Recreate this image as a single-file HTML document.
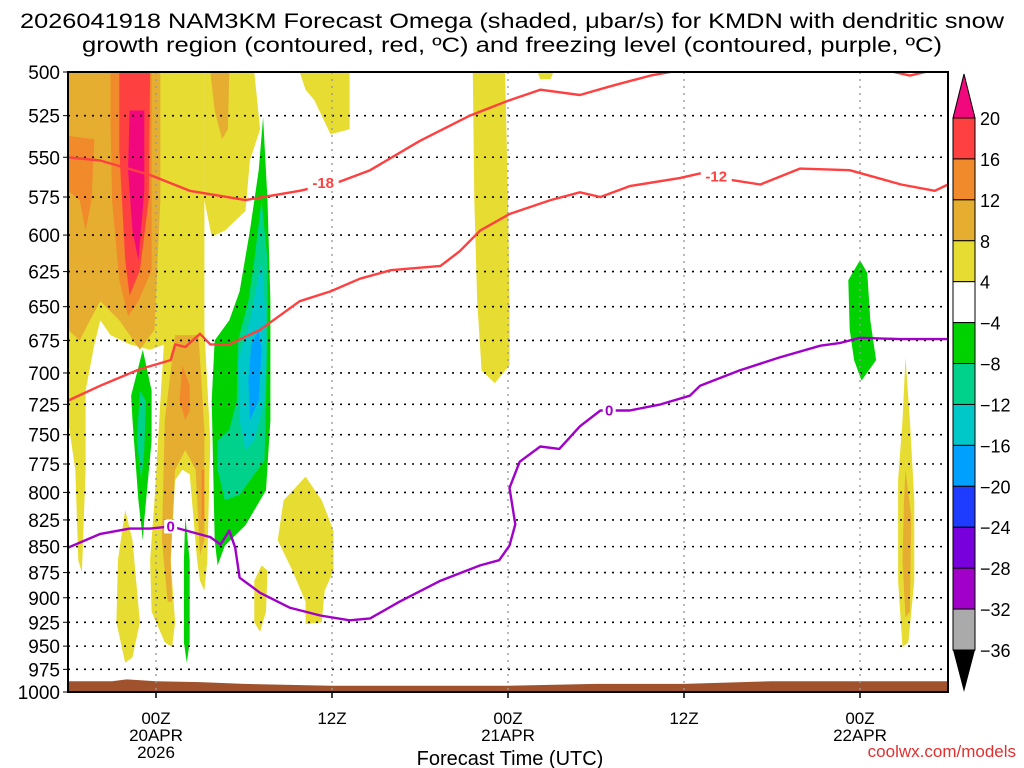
<!DOCTYPE html>
<html><head><meta charset="utf-8"><style>
html,body{margin:0;padding:0;background:#fff;width:1024px;height:768px;overflow:hidden}
svg{display:block;font-family:"Liberation Sans Narrow","Liberation Sans",sans-serif}
</style></head><body>
<svg id="chart" width="1024" height="768" viewBox="0 0 1024 768">
<text x="512" y="28" font-size="21" text-anchor="middle" textLength="984" lengthAdjust="spacingAndGlyphs">2026041918 NAM3KM Forecast Omega (shaded, μbar/s) for KMDN with dendritic snow</text>
<text x="512" y="52" font-size="21" text-anchor="middle" textLength="860" lengthAdjust="spacingAndGlyphs">growth region (contoured, red, ºC) and freezing level (contoured, purple, ºC)</text>
<g id="shading"></g>
<g id="terrain"></g>
<g id="grid"></g>
<g id="contours"></g>
<g id="axes"></g>
<g id="cbar"></g>
<text x="510" y="765" font-size="20" text-anchor="middle">Forecast Time (UTC)</text>
<text x="1016" y="757" font-size="17" text-anchor="end" fill="#e03030">coolwx.com/models</text>
</svg>
<script>
// ---- data ----
const pressureTicks=[500,525,550,575,600,625,650,675,700,725,750,775,800,825,850,875,900,925,950,975,1000];
const timeTickHours=[6,18,30,42,54];
const timeTickLabels=[["00Z","20APR","2026"],["12Z"],["00Z","21APR"],["12Z"],["00Z","22APR"]];
const cbarLevels=["20","16","12","8","4","-4","-8","-12","-16","-20","-24","-28","-32","-36"];
const cbarColors=["#ff4040","#f08a2a","#e6ae30","#e6dc32","#ffffff","#00d200","#00d28c","#00c8c8","#00a0ff","#1e3cff","#7800dc","#a000c8","#aaaaaa"];
const surfaceHours=[0,3,4,6,9,12,18,24,30,36,42,48,54,60];
const surfacePressure=[988,988,986,988,989,991,993,993,993,991,991,988,988,988];
const contourMinus18=[[0,550],[2.2,552],[5.6,561],[8.3,571],[12.1,577],[15.8,571],[18.6,565],[20.6,558],[24.0,540],[27.4,525],[30.1,516],[32.2,510],[34.9,513],[37.0,508],[39.7,502],[43.1,497]];
const contourMinus18b=[[54.7,497],[57.4,502],[60,497]];
const contourMinus12=[[0,722],[2.2,710],[4.9,697],[7.0,690],[7.3,678],[8.0,680],[9.0,670],[9.7,678],[11.0,678],[13.1,667],[15.8,646],[17.9,639],[19.9,630],[22.0,624],[25.4,621],[26.7,611],[28.1,597],[30.1,586],[32.9,577],[34.9,572],[36.3,575],[38.3,568],[41.7,563],[43.1,560],[45.1,564],[47.2,567],[49.9,557],[53.3,558],[56.8,567],[59.1,571],[60,567]];
const contourZero=[[0,851],[2.2,838],[4.2,833],[5.6,833],[7.0,831],[9.7,841],[10.4,848],[11.0,835],[11.4,851],[11.7,880],[13.1,895],[15.1,910],[17.2,918],[19.2,923],[20.6,921],[22.6,904],[25.4,883],[28.1,868],[29.4,863],[30.1,849],[30.5,829],[30.1,796],[30.8,773],[32.2,760],[33.5,762],[34.9,743],[36.3,730],[38.3,730],[40.4,725],[42.4,718],[43.1,710],[45.8,698],[48.5,688],[51.3,679],[52.6,677],[54.0,673],[56.7,674],[60,674]];
const contourLabels=[["-18",17.4,566,"#ff4040"],["-12",44.2,562,"#ff4040"],["0",7.0,831,"#a000c8"],["0",36.9,730,"#a000c8"]];
const blobYellowA=[[0,500],[9.3,500],[9.3,675],[6.6,678],[5.6,682],[4.2,678],[2.9,671],[2.2,660],[1.8,678],[1.2,714],[1.2,780],[0.95,875],[0.7,863],[0.5,780],[0,738]];
const blobGoldA=[[0,500],[6.3,500],[6.3,577],[5.9,667],[4.9,682],[3.5,660],[2.2,646],[1.5,660],[0.8,675],[0,667]];
const blobOrangeA1=[[2.9,500],[5.7,500],[5.7,624],[4.8,646],[4.1,657],[3.5,631],[3.0,577],[2.9,528]];
const blobOrangeA2=[[0,537],[1.8,539],[1.6,577],[1.2,597],[0.8,577],[0,571]];
const blobRedA=[[3.5,500],[5.6,500],[5.5,577],[4.9,624],[4.2,642],[3.9,617],[3.5,546]];
const blobMagentaA=[[4.2,522],[5.2,522],[5.2,571],[4.8,617],[4.4,597],[4.1,558]];
const blobYellowB=[[9.3,500],[12.7,500],[13.1,533],[12.4,552],[12.1,584],[10.7,597],[9.8,601],[9.3,577]];
const blobGoldB=[[9.7,500],[11,500],[10.9,533],[10.5,539],[10,522]];
const blobYellowC=[[15.8,500],[19.2,500],[19.2,533],[17.9,536],[16.8,516],[16.2,510]];
const blobYellowD=[[32,500],[33.1,500],[32.9,504],[32.2,504]];
const blobYellowE=[[27.6,500],[29.8,500],[30.0,577],[30.1,646],[30.1,694],[29.1,708],[28.2,698],[27.9,646],[27.7,577]];
const blobYellowF=[[3.9,816],[4.4,844],[4.9,925],[4.4,962],[3.9,968],[3.3,925],[3.4,863]];
const blobYellowG=[[6.6,667],[9.3,667],[9.7,755],[9.5,863],[9.3,893],[9.0,883],[8.8,863],[8.3,784],[7.8,780],[7.3,789],[7.0,863],[7.3,925],[7.1,951],[6.6,946],[5.7,914],[5.6,863],[5.9,807],[6.3,722]];
const blobGoldG=[[7.3,671],[8.9,671],[9.3,746],[9.3,844],[9.0,858],[8.7,780],[8.0,763],[7.3,780],[7.0,863],[7.1,904],[6.8,904],[6.4,844],[6.6,738]];
const blobOrangeG=[[7.8,694],[8.3,710],[8.3,730],[8.0,738],[7.6,722]];
const blobOrangeG2=[[9.1,780],[9.3,780],[9.3,825],[9.1,825]];
const blobGreenH=[[5.1,682],[5.7,714],[5.7,755],[5.2,825],[5.1,844],[4.8,807],[4.4,738],[4.3,718]];
const blobTealH=[[4.9,714],[5.3,722],[5.2,763],[5.0,789],[4.7,755]];
const blobGreenN=[[8.0,822],[8.3,863],[8.3,946],[8.1,968],[7.9,946],[7.9,863]];
const blobGreenI=[[13.3,526],[13.6,577],[13.8,646],[13.8,738],[13.5,798],[12.1,830],[10.7,849],[10.2,868],[10.0,844],[9.8,722],[10.0,675],[11.0,660],[11.7,639],[12.4,597],[13.0,558]];
const blobTealI=[[13.2,577],[13.6,617],[13.6,667],[13.4,772],[12.7,784],[11.7,802],[10.7,807],[10.2,780],[10.2,755],[11.0,746],[11.5,722],[11.6,675],[12.3,646],[12.7,617]];
const blobCyanI=[[13.2,617],[13.5,660],[13.4,722],[12.7,755],[12.1,763],[11.7,738],[11.6,690],[12.4,660]];
const blobBlueI=[[13.0,667],[13.2,682],[13.0,722],[12.4,738],[12.3,706],[12.5,678]];
const blobYellowJ=[[16.2,786],[17.3,807],[18.1,835],[18.1,873],[17.5,893],[17.3,925],[16.2,927],[16.2,904],[15.3,873],[14.3,844],[14.7,807]];
const blobYellowS=[[13.2,868],[13.6,873],[13.5,914],[13.1,935],[12.7,925],[12.7,883]];
const blobGreenR=[[54.0,617],[54.5,626],[54.7,660],[55.1,690],[54.1,706],[53.6,690],[53.3,667],[53.2,631]];
const blobYellowK=[[57.1,688],[57.4,738],[57.7,807],[57.7,883],[57.3,946],[56.9,951],[56.6,883],[56.6,789],[56.9,738]];
const blobGoldK=[[57.1,780],[57.5,822],[57.4,914],[57.1,920],[56.9,863],[57.0,807]];

// ---- scales ----
const X0=68,X1=948,Y0=72,Y1=692,H0=0,H1=60;
function xs(h){return X0+(h-H0)/(H1-H0)*(X1-X0);}
function ys(p){return Y0+Math.log(p/500)/Math.log(1000/500)*(Y1-Y0);}
const NS="http://www.w3.org/2000/svg";
function mk(tag,attrs,parent){const e=document.createElementNS(NS,tag);for(const k in attrs)e.setAttribute(k,attrs[k]);parent.appendChild(e);return e;}
const pts=a=>a.map(d=>xs(d[0]).toFixed(1)+","+ys(d[1]).toFixed(1)).join(" ");

const svg=document.getElementById("chart");
const defs=mk("defs",{},svg);
const cp=mk("clipPath",{id:"plotclip"},defs);
mk("rect",{x:X0,y:Y0,width:X1-X0,height:Y1-Y0},cp);

const shade=document.getElementById("shading");
shade.setAttribute("clip-path","url(#plotclip)");
const blobs=[[blobYellowA,"#e6dc32","positive-omega-area"],[blobGoldA,"#e6ae30","positive-omega-area"],[blobOrangeA1,"#f08a2a","positive-omega-area"],[blobOrangeA2,"#f08a2a","positive-omega-area"],[blobRedA,"#ff4040","positive-omega-area"],[blobMagentaA,"#f0087c","positive-omega-area"],
[blobYellowB,"#e6dc32","positive-omega-area"],[blobGoldB,"#e6ae30","positive-omega-area"],[blobYellowC,"#e6dc32","positive-omega-area"],[blobYellowD,"#e6dc32","positive-omega-area"],[blobYellowE,"#e6dc32","positive-omega-area"],
[blobYellowF,"#e6dc32","positive-omega-area"],[blobYellowG,"#e6dc32","positive-omega-area"],[blobGoldG,"#e6ae30","positive-omega-area"],[blobOrangeG,"#f08a2a","positive-omega-area"],[blobOrangeG2,"#f08a2a","positive-omega-area"],
[blobGreenH,"#00d200","negative-omega-area"],[blobTealH,"#00d28c","negative-omega-area"],[blobGreenN,"#00d200","negative-omega-area"],
[blobGreenI,"#00d200","negative-omega-area"],[blobTealI,"#00d28c","negative-omega-area"],[blobCyanI,"#00c8c8","negative-omega-area"],[blobBlueI,"#00a0ff","negative-omega-area"],
[blobYellowJ,"#e6dc32","positive-omega-area"],[blobYellowS,"#e6dc32","positive-omega-area"],[blobGreenR,"#00d200","negative-omega-area"],[blobYellowK,"#e6dc32","positive-omega-area"],[blobGoldK,"#e6ae30","positive-omega-area"]];
blobs.forEach(b=>{
  const e=mk("polygon",{points:pts(b[0]),fill:b[1]},shade);
  
  
});

// terrain
const ter=document.getElementById("terrain");
const tp=surfaceHours.map((h,i)=>[h,surfacePressure[i]]);
const terr=mk("polygon",{points:pts([[0,1000]].concat(tp,[[60,1000]])),fill:"#a0522d"},ter);



// grid
const grid=document.getElementById("grid");
pressureTicks.forEach(p=>{if(p>500&&p<1000){const l=mk("line",{x1:X0,x2:X1,y1:ys(p),y2:ys(p),stroke:"#000","stroke-width":1.6,"stroke-dasharray":"2,6"},grid);

}});
timeTickHours.forEach(h=>{const l=mk("line",{x1:xs(h),x2:xs(h),y1:Y0,y2:Y1,stroke:"#999","stroke-width":1.4,"stroke-dasharray":"2,5"},grid);

});

// contours
const con=document.getElementById("contours");
con.setAttribute("clip-path","url(#plotclip)");
[[contourMinus18,"#ff4040","contour-minus18"],[contourMinus18b,"#ff4040","contour-minus18"],[contourMinus12,"#ff4040","contour-minus12"],[contourZero,"#a000c8","freezing-level-contour"]].forEach(c=>{
  const l=mk("polyline",{points:pts(c[0]),fill:"none",stroke:c[1],"stroke-width":2.4,"stroke-linejoin":"round"},con);
  
  
});
contourLabels.forEach(c=>{
  const x=xs(c[1]),y=ys(c[2]);
  const w=c[0].length*9+4;
  mk("rect",{x:x-w/2,y:y-7,width:w,height:14,fill:"#fff"},con);
  const t=mk("text",{x:x,y:y+5,"font-size":15,"font-weight":"bold","text-anchor":"middle",fill:c[3]},con);
  t.textContent=c[0];
  
  
});

// axes
const ax=document.getElementById("axes");
const frame=mk("rect",{x:X0,y:Y0,width:X1-X0,height:Y1-Y0,fill:"none",stroke:"#000","stroke-width":2},ax);


pressureTicks.forEach(p=>{
  const t=mk("text",{x:60,y:ys(p)+7,"font-size":19,"text-anchor":"end"},ax);
  t.textContent=p;
  
  
  mk("line",{x1:X0-5,x2:X0,y1:ys(p),y2:ys(p),stroke:"#000","stroke-width":1},ax);
});
timeTickHours.forEach((h,i)=>{
  mk("line",{x1:xs(h),x2:xs(h),y1:Y1,y2:Y1+6,stroke:"#000","stroke-width":1.5},ax);
  timeTickLabels[i].forEach((s,j)=>{
    const t=mk("text",{x:xs(h),y:724+j*17,"font-size":17,"text-anchor":"middle"},ax);
    t.textContent=s;
    
    
  });
});

// colorbar
const cb=document.getElementById("cbar");
const CBX=953,CBW=22,CBY0=118,CBSTEP=(650-118)/13;
const up=mk("polygon",{points:`${CBX},${CBY0} ${CBX+CBW},${CBY0} ${CBX+CBW/2},${CBY0-44}`,fill:"#f0087c",stroke:"#000","stroke-width":1},cb);


cbarColors.forEach((c,i)=>{
  const r=mk("rect",{x:CBX,y:CBY0+i*CBSTEP,width:CBW,height:CBSTEP,fill:c,stroke:"#000","stroke-width":1},cb);
  
  
});
const yb=CBY0+cbarColors.length*CBSTEP;
const dn=mk("polygon",{points:`${CBX},${yb} ${CBX+CBW},${yb} ${CBX+CBW/2},${yb+42}`,fill:"#000"},cb);


cbarLevels.forEach((s,i)=>{
  const t=mk("text",{x:980,y:CBY0+i*CBSTEP+7,"font-size":18},cb);
  t.textContent=s.replace("-","\u2212");
  
  
});
</script>
</body></html>
